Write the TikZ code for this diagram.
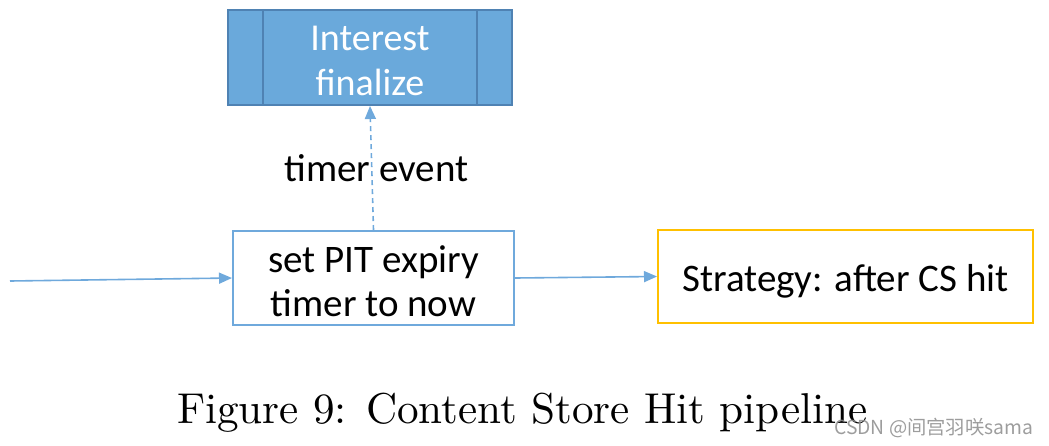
\documentclass[tikz,border=0pt]{standalone}
\usepackage{fontspec}
\usetikzlibrary{arrows.meta}
\newfontfamily\calib{Carlito}
\newfontfamily\cjkf{Noto Sans CJK SC}
\definecolor{lineblue}{HTML}{6FA9DC}
\definecolor{fillblue}{HTML}{6AA9DB}
\definecolor{darkblue}{HTML}{4F82B3}
\definecolor{gold}{HTML}{FFC000}
\definecolor{wmgray}{HTML}{8C8C8C}
\tikzset{
  boxtext/.style={font=\calib\fontsize{39}{44}\selectfont, align=center, inner sep=0pt},
  pitbox/.style={draw=lineblue, line width=2pt, minimum width=281pt, minimum height=94pt, inner sep=0pt},
  intbox/.style={draw=darkblue, fill=fillblue, line width=2pt, minimum width=284pt, minimum height=95pt, inner sep=0pt},
  stratbox/.style={draw=gold, line width=2pt, minimum width=375pt, minimum height=93pt, inner sep=0pt},
  flow/.style={draw=lineblue, line width=1.6pt, -{Triangle[length=13pt,width=11pt]}},
  dashflow/.style={flow, dash pattern=on 5pt off 4pt},
}
\begin{document}
\begin{tikzpicture}[x=1pt,y=-1pt]
\useasboundingbox (0,0) rectangle (1049,445);
\node[intbox] (int) at (370,57.5) {};
\node[boxtext, text=white, font=\calib\fontsize{38}{45}\selectfont, yshift=-3pt] (inttext) at (int) {Interest\\finalize};
\draw[darkblue, line width=2pt] ([xshift=36pt]int.north west) -- ([xshift=36pt]int.south west);
\draw[darkblue, line width=2pt] ([xshift=-36pt]int.north east) -- ([xshift=-36pt]int.south east);
\node[pitbox] (pit) at (373.5,278) {};
\node[boxtext, yshift=-3pt] (pittext) at (pit) {set PIT expiry\\timer to now};
\node[stratbox] (strat) at (845.5,276.5) {};
\node[boxtext, yshift=-5pt] (strattext) at (strat) {Strategy: after CS hit};
\coordinate (src) at (10,281);
\draw[flow] (src) -- (pit.west);
\draw[flow] (pit.east) -- (strat.west);
\draw[dashflow] (pit.north) -- (int.south);
\node[boxtext, anchor=base] (lbl) at (376.5,181) {timer event};
\node[anchor=base west, inner sep=0pt] (cap) at (177,423) {\resizebox{690pt}{!}{\fontspec{Latin Modern Roman}\fontsize{10}{12}\selectfont Figure 9: Content Store Hit pipeline}};
\node[anchor=base west, inner sep=0pt, text=wmgray, opacity=0.85] (wm) at (834,434) {\resizebox{199pt}{!}{\cjkf\fontsize{19}{22}\selectfont CSDN @间宫羽咲sama}};
\end{tikzpicture}
\end{document}
